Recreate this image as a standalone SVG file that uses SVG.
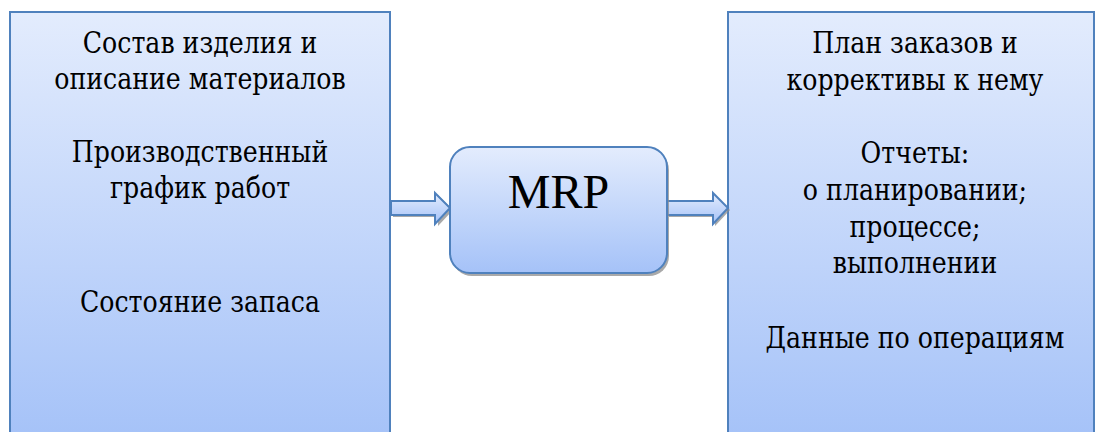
<svg xmlns="http://www.w3.org/2000/svg" width="1099" height="432" viewBox="0 0 1099 432">
<style>
.box{stroke:#4F81BD;stroke-width:2}
.t{font-family:"DejaVu Serif",serif;font-size:29px;fill:#000;text-anchor:middle}
.m{font-family:"Liberation Serif","Times New Roman",serif;font-size:48px;fill:#000;text-anchor:middle}
.arr{stroke:#4F81BD;stroke-width:2;stroke-linejoin:miter}
.sh{fill:#8C8C8C;opacity:0.75}
</style>
<defs>
<linearGradient id="gBig" x1="0" y1="12" x2="0" y2="440" gradientUnits="userSpaceOnUse">
<stop offset="0" stop-color="#E3ECFD"/>
<stop offset="1" stop-color="#A5C2F8"/>
</linearGradient>
<linearGradient id="gMrp" x1="0" y1="0" x2="0" y2="1">
<stop offset="0" stop-color="#E3ECFD"/>
<stop offset="1" stop-color="#A5C2F8"/>
</linearGradient>
<linearGradient id="gArr" x1="0" y1="0" x2="0" y2="1">
<stop offset="0" stop-color="#E3ECFD"/>
<stop offset="1" stop-color="#A5C2F8"/>
</linearGradient>
</defs>
<rect width="1099" height="432" fill="#FFFFFF"/>

<g id="inputs">
<rect class="box" x="10" y="12" width="380" height="440" fill="url(#gBig)"/>
<g transform="scale(0.87 1)">
<text class="t" x="229.9" y="53">Состав изделия и</text>
<text class="t" x="229.9" y="89">описание материалов</text>
<text class="t" x="229.9" y="162">Производственный</text>
<text class="t" x="229.9" y="198">график работ</text>
<text class="t" x="229.9" y="312">Состояние запаса</text>
</g>
</g>

<g id="outputs">
<rect class="box" x="728" y="12" width="366" height="440" fill="url(#gBig)"/>
<g transform="scale(0.87 1)">
<text class="t" x="1051.7" y="53">План заказов и</text>
<text class="t" x="1051.7" y="90">коррективы к нему</text>
<text class="t" x="1051.7" y="163">Отчеты:</text>
<text class="t" x="1051.7" y="200">о планировании;</text>
<text class="t" x="1051.7" y="237">процессе;</text>
<text class="t" x="1051.7" y="273">выполнении</text>
<text class="t" x="1051.7" y="348">Данные по операциям</text>
</g>
</g>

<g id="connectors">
<path class="sh" d="M393,203 H438 V195 L453,210 L438,226 V217 H393 Z"/>
<path class="arr" fill="url(#gArr)" d="M391,201 H435 V193 L450,208 L435,224 V215 H391 Z"/>
<path class="sh" d="M669,203 H715 V195 L730,210 L715,226 V217 H669 Z"/>
<path class="arr" fill="url(#gArr)" d="M667,201 H713 V193 L728,208 L713,224 V215 H667 Z"/>
</g>

<g id="mrp">
<rect x="452" y="150" width="217" height="126" rx="20" ry="20" class="sh"/>
<rect class="box" x="450" y="147" width="217" height="126" rx="20" ry="20" fill="url(#gMrp)"/>
<text class="m" x="558.5" y="208">MRP</text>
</g>
</svg>
